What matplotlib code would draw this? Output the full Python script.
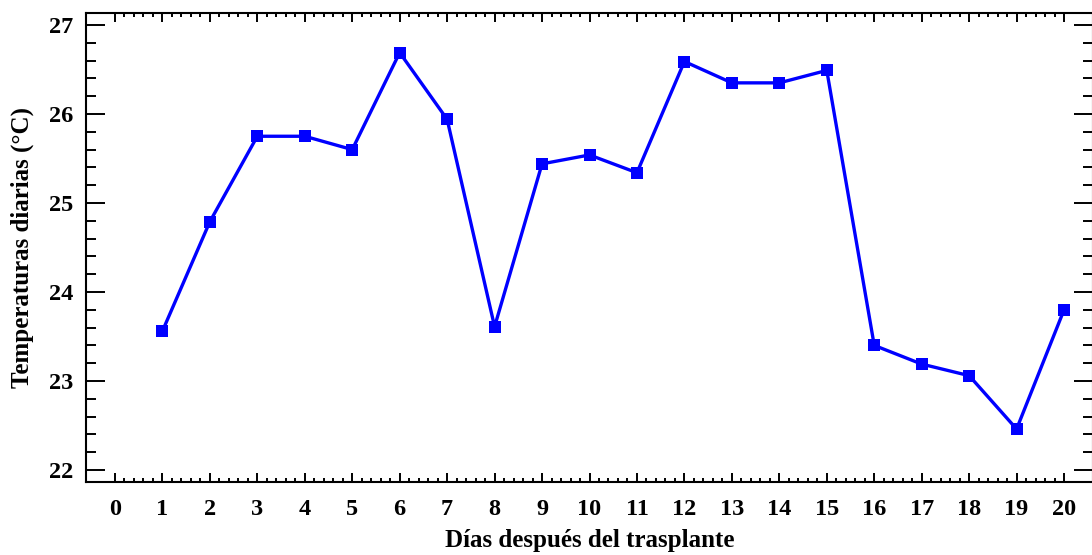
import matplotlib
matplotlib.use("Agg")
import matplotlib.pyplot as plt
from matplotlib.ticker import FixedLocator

# días después del trasplante y temperatura media diaria
dias = [1, 2, 3, 4, 5, 6, 7, 8, 9, 10, 11, 12, 13, 14, 15, 16, 17, 18, 19, 20]
temperatura = [23.56, 24.79, 25.75, 25.75, 25.60, 26.69, 25.94, 23.61, 25.44, 25.54,
               25.34, 26.59, 26.35, 26.35, 26.49, 23.40, 23.19, 23.06, 22.46, 23.80]
x_ticks = list(range(0, 21))
y_ticks = [22, 23, 24, 25, 26, 27]

plt.rcParams["font.family"] = ["Liberation Serif", "DejaVu Serif"]
plt.rcParams["font.weight"] = "bold"

fig = plt.figure(figsize=(10.92, 5.55), dpi=100)
ax = fig.add_axes([86 / 1092, 1 - 482 / 555, 1007 / 1092, 469 / 555])

ax.plot(dias, temperatura, color="#0000ff", linewidth=2.4,
        marker="s", markersize=8, markeredgewidth=0, clip_on=False)

ax.set_xlim(-0.61, 20.61)
ax.set_ylim(21.865, 27.135)
ax.set_xticks(x_ticks)
ax.set_yticks(y_ticks)

# subdivisiones solo entre la primera y la última marca principal
x_minor = [i / 5 for i in range(0, 101) if i % 5]
y_minor = [22 + i / 5 for i in range(0, 26) if i % 5]
ax.xaxis.set_minor_locator(FixedLocator(x_minor))
ax.yaxis.set_minor_locator(FixedLocator(y_minor))

ax.tick_params(axis="both", which="both", direction="in", width=1.4,
               top=True, right=True, labelsize=17.5)
ax.tick_params(axis="x", which="major", length=6.8, pad=12)
ax.tick_params(axis="x", which="minor", length=3.2)
ax.tick_params(axis="y", which="major", length=13.7, pad=9)
ax.tick_params(axis="y", which="minor", length=7.2)
for lbl in ax.get_xticklabels() + ax.get_yticklabels():
    lbl.set_fontweight("bold")

for sp in ax.spines.values():
    sp.set_linewidth(1.5)

ax.set_xlabel("Días después del trasplante", fontsize=18, fontweight="bold", labelpad=7)
ax.set_ylabel("Temperaturas diarias (°C)", fontsize=18, fontweight="bold", labelpad=11)

fig.savefig("out.png", dpi=100)
